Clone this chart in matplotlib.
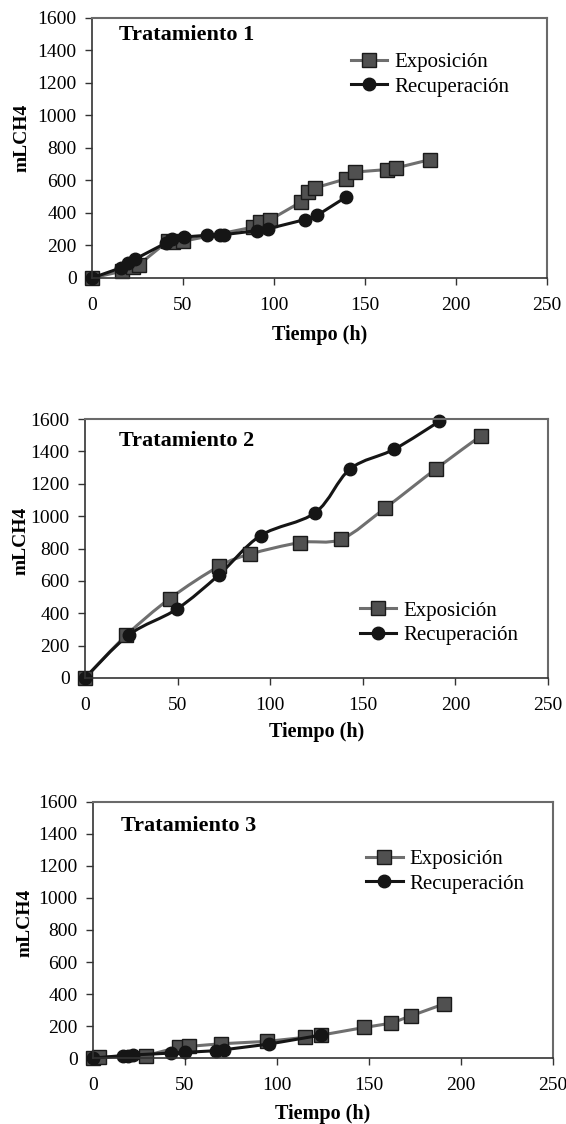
# ============================================================
# Methane production (mLCH4) vs time for three treatments
# ============================================================

import matplotlib
matplotlib.use("Agg")
import matplotlib.pyplot as plt
from matplotlib.path import Path
from matplotlib.patches import PathPatch
from matplotlib.lines import Line2D

plt.rcParams["font.family"] = ["Liberation Serif", "DejaVu Serif"]


# ============================================================
# 1. Data
# ============================================================

t1_exp_x = [0, 16.4, 22.8, 25.8, 41.6, 44.6, 50.1, 88.2, 92.1, 98.0,
            114.9, 118.9, 122.4, 139.3, 144.6, 162.0, 167.0, 185.6]
t1_exp_y = [0, 41, 66, 82, 226, 222, 226, 312, 343, 359,
            468, 527, 554, 609, 652, 667, 677, 728]
t1_rec_x = [0, 15.8, 19.8, 23.8, 40.6, 44.2, 50.5, 63.4, 70.3, 72.7,
            90.5, 96.5, 116.9, 123.8, 139.3]
t1_rec_y = [0, 62, 92, 117, 215, 242, 252, 263, 267, 267,
            291, 302, 359, 386, 496]

t2_exp_x = [0, 22.2, 45.8, 72.2, 89.0, 116.2, 138.4, 162.2, 189.6, 213.6]
t2_exp_y = [0, 263, 491, 689, 765, 837, 858, 1051, 1293, 1495]
t2_rec_x = [0, 23.8, 49.6, 72.4, 94.8, 124.4, 143.1, 166.9, 191.4]
t2_rec_y = [0, 267, 426, 638, 880, 1022, 1291, 1413, 1586]

t3_exp_x = [0, 3.3, 28.8, 46.9, 52.4, 69.4, 94.5, 115.1, 123.9,
            147.5, 162.2, 172.9, 190.6]
t3_exp_y = [0, 4, 15, 69, 73, 89, 104, 129, 143, 191, 218, 264, 337]
t3_rec_x = [0, 16.1, 19.0, 21.6, 42.5, 49.8, 67.0, 71.4, 95.5, 123.9]
t3_rec_y = [0, 15, 15, 19, 31, 35, 46, 52, 87, 143]

titles = ["Tratamiento 1", "Tratamiento 2", "Tratamiento 3"]
series_labels = ["Exposición", "Recuperación"]
x_ticks = [0, 50, 100, 150, 200, 250]
y_ticks = [0, 200, 400, 600, 800, 1000, 1200, 1400, 1600]


# ============================================================
# 2. Styles and layout
# ============================================================

EXP_STYLE = dict(color="#6f6f6f", marker="s", markersize=9.8,
                 markerfacecolor="#505050", markeredgecolor="#1a1a1a",
                 markeredgewidth=1.0, linewidth=2.2)
REC_STYLE = dict(color="#151515", marker="o", markersize=9.0,
                 markerfacecolor="#151515", markeredgecolor="#151515",
                 markeredgewidth=1.0, linewidth=2.2)

# axes rectangles in figure fractions (left, bottom, width, height)
AX_RECTS = [
    [0.1625, 0.7527, 0.8039, 0.2313],
    [0.1502, 0.3968, 0.8180, 0.2304],
    [0.1643, 0.0587, 0.8127, 0.2278],
]
TITLE_POS = [(0.059, 0.936), (0.073, 0.915), (0.061, 0.906)]
LEGEND_POS = [(0.569, 0.867), (0.594, 0.297), (0.594, 0.814)]
YLABEL_POS = [(-0.136, 0.54), (-0.119, 0.53), (-0.130, 0.527)]
XLABEL_Y = [-0.18, -0.17, -0.18]


def smooth_patch(x, y, style):
    """
    Excel-like smoothed line as a Bezier path through the points.
    """
    pts = list(zip(x, y))
    verts = [pts[0]]
    codes = [Path.MOVETO]
    n = len(pts)
    for i in range(n - 1):
        p0 = pts[max(i - 1, 0)]
        p1 = pts[i]
        p2 = pts[i + 1]
        p3 = pts[min(i + 2, n - 1)]
        c1 = (p1[0] + (p2[0] - p0[0]) / 6, p1[1] + (p2[1] - p0[1]) / 6)
        c2 = (p2[0] - (p3[0] - p1[0]) / 6, p2[1] - (p3[1] - p1[1]) / 6)
        verts += [c1, c2, p2]
        codes += [Path.CURVE4] * 3
    return PathPatch(Path(verts, codes), fill=False,
                     edgecolor=style["color"], linewidth=style["linewidth"],
                     capstyle="round", joinstyle="round")


def draw_series(ax, x, y, style, smooth):
    if smooth:
        ax.add_patch(smooth_patch(x, y, style))
        marker_style = dict(style)
        marker_style["linestyle"] = "none"
        ax.plot(x, y, clip_on=False, **marker_style)
    else:
        ax.plot(x, y, clip_on=False, **style)
    return Line2D([], [], **style)


# ============================================================
# 3. Figure
# ============================================================

fig = plt.figure(figsize=(5.66, 11.24), dpi=100)

panels = [
    (t1_exp_x, t1_exp_y, t1_rec_x, t1_rec_y, False),
    (t2_exp_x, t2_exp_y, t2_rec_x, t2_rec_y, True),
    (t3_exp_x, t3_exp_y, t3_rec_x, t3_rec_y, False),
]

for i, (ex, ey, rx, ry, smooth) in enumerate(panels):
    ax = fig.add_axes(AX_RECTS[i])

    h_exp = draw_series(ax, ex, ey, EXP_STYLE, smooth)
    h_rec = draw_series(ax, rx, ry, REC_STYLE, smooth)

    ax.set_xlim(0, 250)
    ax.set_ylim(0, 1600)
    ax.set_xticks(x_ticks)
    ax.set_yticks(y_ticks)
    ax.tick_params(axis="both", direction="out", length=5, width=1,
                   labelsize=14, color="#333333")
    ax.tick_params(axis="x", pad=9)
    ax.tick_params(axis="y", pad=6)

    for side in ["left", "bottom"]:
        ax.spines[side].set_color("#333333")
        ax.spines[side].set_linewidth(1.2)
    for side in ["top", "right"]:
        ax.spines[side].set_color("#6a6a6a")
        ax.spines[side].set_linewidth(1.5)

    ax.text(TITLE_POS[i][0], TITLE_POS[i][1], titles[i],
            transform=ax.transAxes, fontsize=16, fontweight="bold",
            ha="left", va="center")

    ax.set_ylabel("mLCH4", fontsize=14, fontweight="bold")
    ax.yaxis.set_label_coords(*YLABEL_POS[i])
    ax.set_xlabel("Tiempo (h)", fontsize=14.5, fontweight="bold")
    ax.xaxis.set_label_coords(0.5, XLABEL_Y[i])

    ax.legend([h_exp, h_rec], series_labels, loc="upper left",
              bbox_to_anchor=LEGEND_POS[i], frameon=False, fontsize=15,
              handlelength=1.75, handletextpad=0.33, labelspacing=0.23,
              borderpad=0, borderaxespad=0)

fig.savefig("out.png", dpi=100)
